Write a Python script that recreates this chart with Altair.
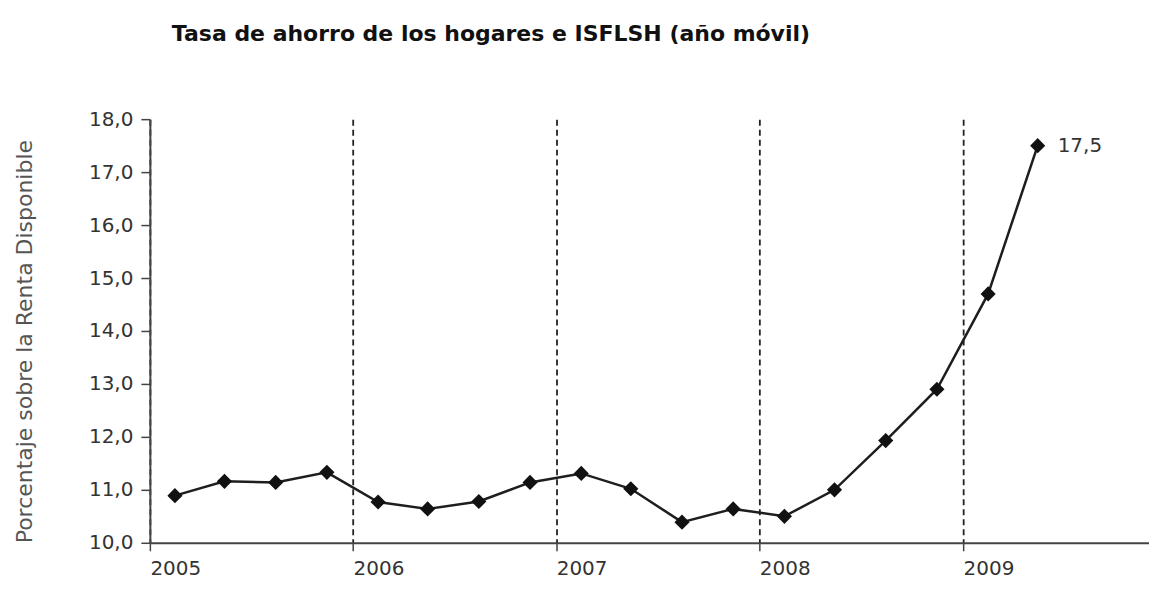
import altair as alt
import pandas as pd

# Data (quarterly, rolling year)
quarters = ["2005-T1", "2005-T2", "2005-T3", "2005-T4",
            "2006-T1", "2006-T2", "2006-T3", "2006-T4",
            "2007-T1", "2007-T2", "2007-T3", "2007-T4",
            "2008-T1", "2008-T2", "2008-T3", "2008-T4",
            "2009-T1", "2009-T2"]
tasa = [10.89, 11.16, 11.14, 11.33,
        10.77, 10.64, 10.78, 11.14,
        11.31, 11.02, 10.39, 10.64,
        10.50, 11.00, 11.93, 12.90,
        14.70, 17.50]
year_ticks = [2005, 2006, 2007, 2008, 2009]
y_ticks = [10, 11, 12, 13, 14, 15, 16, 17, 18]


def mid_quarter(label):
    y, q = label.split("-T")
    return f"{y}-{3 * (int(q) - 1) + 2:02d}-15"


df = pd.DataFrame({
    "periodo": quarters,
    "fecha": [mid_quarter(q) for q in quarters],
    "tasa": tasa,
})

FONT = "DejaVu Sans"
DARK = "#1e1e1e"
AXIS = "#444444"

x_enc = alt.X(
    "fecha:T",
    scale=alt.Scale(domain=[alt.DateTime(year=2005, month=1, date=1),
                            alt.DateTime(year=2009, month=12, date=1)]),
    axis=alt.Axis(
        values=[alt.DateTime(year=y, month=1, date=1) for y in year_ticks],
        format="%Y",
        title=None,
        labelAlign="left",
        labelFont=FONT,
        labelFontSize=20,
        labelColor="#333333",
        labelPadding=8,
        tickSize=8,
        tickColor=AXIS,
        tickWidth=1.5,
        domainColor=AXIS,
        domainWidth=2,
        grid=True,
        gridDash=[6, 4],
        gridColor="#222222",
        gridWidth=1.8,
    ),
)

y_enc = alt.Y(
    "tasa:Q",
    scale=alt.Scale(domain=[10, 18], nice=False, zero=False),
    axis=alt.Axis(
        values=y_ticks,
        labelExpr="replace(format(datum.value, '.1f'), '.', ',')",
        title="Porcentaje sobre la Renta Disponible",
        titleFont=FONT,
        titleFontSize=22,
        titleFontWeight="normal",
        titleColor="#555555",
        titleAnchor="start",
        titlePadding=52,
        labelFont=FONT,
        labelFontSize=20,
        labelColor="#333333",
        labelPadding=8,
        tickSize=9,
        tickColor=AXIS,
        tickWidth=1.5,
        domainColor=AXIS,
        domainWidth=2,
        grid=False,
    ),
)

base = alt.Chart(df)

line = base.mark_line(color=DARK, strokeWidth=2.5).encode(x=x_enc, y=y_enc)
points = base.mark_point(shape="diamond", filled=True, size=230,
                         color="#111111", opacity=1).encode(x="fecha:T", y="tasa:Q")
label = base.transform_filter(
    alt.datum.periodo == quarters[-1]
).transform_calculate(
    etiqueta="replace(format(datum.tasa, '.1f'), '.', ',')"
).mark_text(align="left", baseline="middle", dx=20, font=FONT,
            fontSize=20, color="#333333").encode(
    x="fecha:T", y="tasa:Q", text="etiqueta:N")

chart = alt.layer(line, points, label).properties(
    width=1000,
    height=424,
    title=alt.TitleParams(
        "Tasa de ahorro de los hogares e ISFLSH (año móvil)",
        anchor="start",
        frame="group",
        dx=22,
        font=FONT,
        fontSize=22,
        fontWeight="bold",
        color="#111111",
        offset=63,
    ),
    padding={"left": 5, "top": 15, "right": 0, "bottom": 5},
).configure(background="white").configure_view(stroke=None)

chart.save("out.html", embed_options={"renderer": "svg", "actions": False})
